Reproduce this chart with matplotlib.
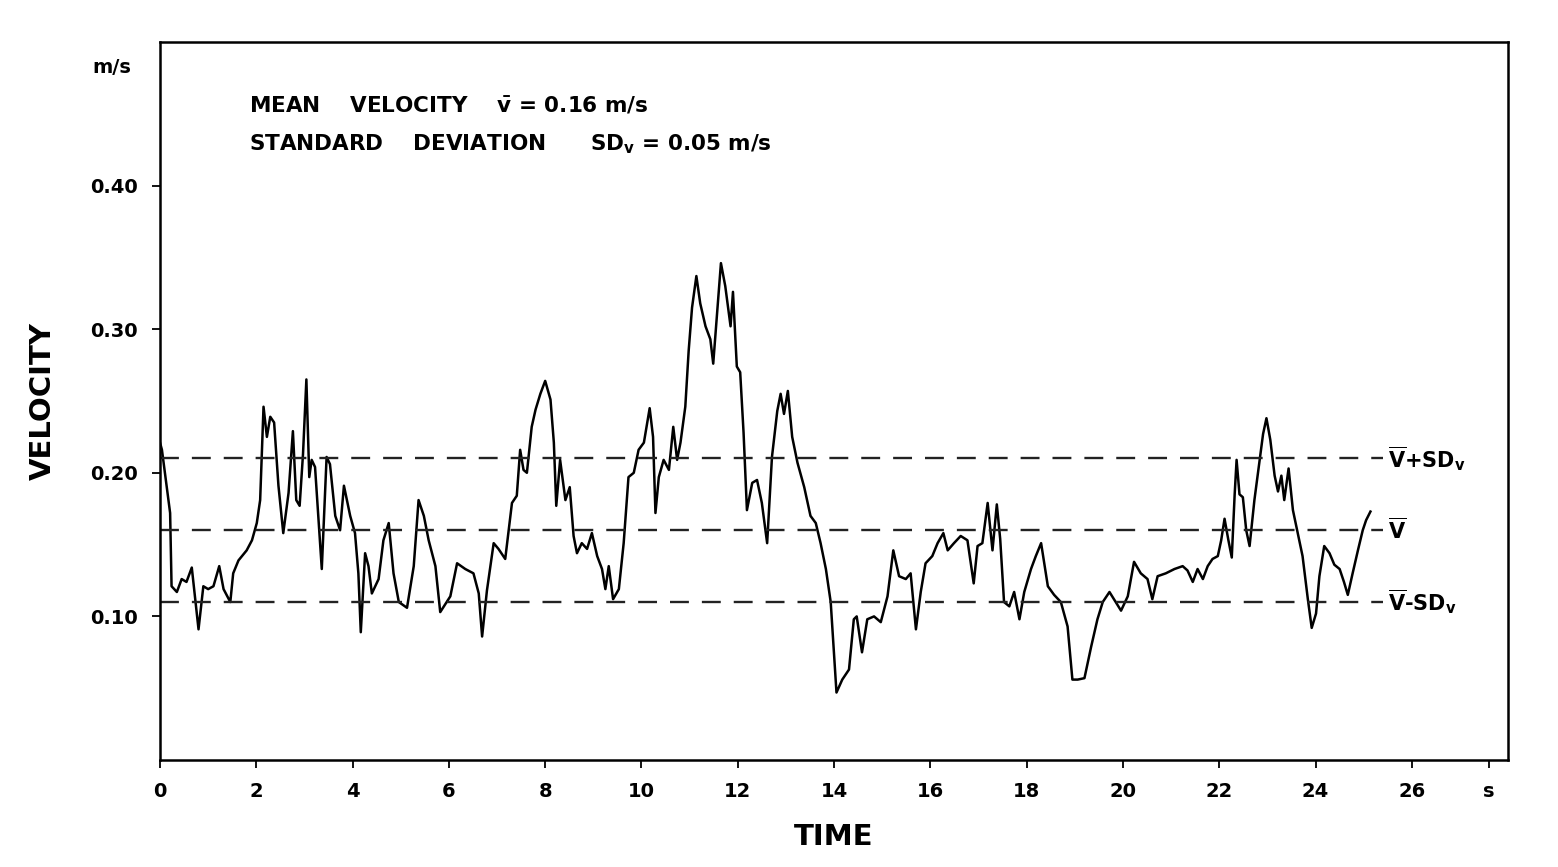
import matplotlib
matplotlib.use("Agg")
import matplotlib.pyplot as plt

# velocity trace
time_s = [
    0.00, 0.04, 0.21, 0.24, 0.35, 0.45, 0.55, 0.66, 0.76, 0.80, 0.90, 1.00, 1.11, 1.23, 1.32,
    1.46, 1.52, 1.63, 1.80, 1.91, 2.01, 2.08, 2.15, 2.22, 2.29, 2.37, 2.46, 2.56, 2.67, 2.76,
    2.83, 2.90, 2.97, 3.04, 3.10, 3.15, 3.22, 3.29, 3.36, 3.46, 3.53, 3.64, 3.74, 3.82, 3.95,
    4.05, 4.12, 4.17, 4.26, 4.33, 4.40, 4.54, 4.64, 4.75, 4.85, 4.96, 5.13, 5.27, 5.37, 5.48,
    5.58, 5.72, 5.82, 6.03, 6.17, 6.34, 6.51, 6.62, 6.69, 6.79,
    6.93, 7.03, 7.17, 7.31, 7.41, 7.48, 7.55, 7.62, 7.72, 7.80, 7.90, 8.00, 8.11, 8.18, 8.23,
    8.31, 8.42, 8.51, 8.59, 8.66, 8.76, 8.87, 8.97, 9.08, 9.18, 9.25, 9.32, 9.41, 9.53, 9.63,
    9.73, 9.84, 9.94, 10.05, 10.17, 10.24, 10.29, 10.36, 10.46, 10.57, 10.66, 10.74, 10.81,
    10.91, 10.98, 11.05, 11.14, 11.22, 11.33, 11.43, 11.49, 11.57, 11.65, 11.74, 11.85, 11.90,
    11.98, 12.05, 12.12, 12.19, 12.30, 12.40, 12.50, 12.61, 12.71, 12.82, 12.89, 12.96, 13.04,
    13.13, 13.24, 13.38, 13.51, 13.62, 13.72, 13.83, 13.93,
    13.98, 14.05, 14.17, 14.31, 14.41, 14.47, 14.58, 14.69, 14.83, 14.97, 15.11, 15.23, 15.35,
    15.49, 15.59, 15.70, 15.80, 15.90, 16.04, 16.15, 16.27, 16.36, 16.49, 16.63, 16.77, 16.90,
    16.98, 17.08, 17.19, 17.29, 17.38, 17.45, 17.53, 17.64, 17.74, 17.85, 17.95, 18.09, 18.19,
    18.30, 18.44, 18.57, 18.71, 18.85, 18.95, 19.06, 19.20, 19.34, 19.47, 19.58, 19.72, 19.85,
    19.96, 20.10, 20.23, 20.37, 20.51, 20.61,
    20.72, 20.89, 21.07, 21.24, 21.34, 21.45, 21.55, 21.66, 21.76, 21.86, 21.97, 22.04, 22.11,
    22.19, 22.26, 22.32, 22.36, 22.42, 22.49, 22.56, 22.63, 22.73, 22.84, 22.91, 22.98, 23.06,
    23.15, 23.22, 23.29, 23.35, 23.44, 23.53, 23.63, 23.73, 23.84, 23.92, 24.01, 24.08, 24.18,
    24.29, 24.39, 24.50, 24.59, 24.67, 24.77, 24.88, 24.98, 25.05, 25.14,
]
velocity = [
    0.221, 0.216, 0.172, 0.121, 0.117, 0.126, 0.124, 0.134, 0.103, 0.091, 0.121, 0.119, 0.121,
    0.135, 0.119, 0.110, 0.130, 0.139, 0.146, 0.153, 0.165, 0.181, 0.246, 0.225, 0.239, 0.235,
    0.191, 0.158, 0.186, 0.229, 0.181, 0.177, 0.213, 0.265, 0.197, 0.209, 0.204, 0.168, 0.133,
    0.211, 0.206, 0.170, 0.160, 0.191, 0.170, 0.158, 0.130, 0.089, 0.144, 0.135, 0.116, 0.126,
    0.153, 0.165, 0.130, 0.110, 0.106, 0.135, 0.181, 0.170, 0.153, 0.135, 0.103, 0.114, 0.137,
    0.133, 0.130, 0.116, 0.086, 0.118,
    0.151, 0.147, 0.140, 0.179, 0.184, 0.216, 0.202, 0.200, 0.232, 0.244, 0.255, 0.264, 0.251,
    0.221, 0.177, 0.209, 0.181, 0.190, 0.156, 0.144, 0.151, 0.147, 0.158, 0.142, 0.133, 0.119,
    0.135, 0.112, 0.119, 0.151, 0.197, 0.200, 0.216, 0.221, 0.245, 0.225, 0.172, 0.197, 0.209,
    0.202, 0.232, 0.209, 0.221, 0.246, 0.285, 0.315, 0.337, 0.318, 0.302, 0.293, 0.276, 0.311,
    0.346, 0.330, 0.302, 0.326, 0.274, 0.270, 0.228, 0.174, 0.193, 0.195, 0.179, 0.151, 0.211,
    0.243, 0.255, 0.241, 0.257, 0.225, 0.207, 0.190, 0.170, 0.165, 0.151, 0.133, 0.110,
    0.084, 0.047, 0.056, 0.063, 0.098, 0.100, 0.075, 0.098, 0.100, 0.096, 0.114, 0.146, 0.128,
    0.126, 0.130, 0.091, 0.117, 0.137, 0.142, 0.151, 0.158, 0.146, 0.151, 0.156, 0.153, 0.123,
    0.149, 0.151, 0.179, 0.146, 0.178, 0.154, 0.110, 0.107, 0.117, 0.098, 0.117, 0.133, 0.142,
    0.151, 0.121, 0.115, 0.110, 0.093, 0.056, 0.056, 0.057, 0.079, 0.098, 0.110, 0.117, 0.110,
    0.104, 0.114, 0.138, 0.130, 0.126, 0.112,
    0.128, 0.130, 0.133, 0.135, 0.132, 0.124, 0.133, 0.126, 0.135, 0.140, 0.142, 0.153, 0.168,
    0.153, 0.141, 0.185, 0.209, 0.185, 0.183, 0.160, 0.149, 0.181, 0.209, 0.227, 0.238, 0.223,
    0.198, 0.187, 0.198, 0.181, 0.203, 0.174, 0.158, 0.142, 0.112, 0.092, 0.102, 0.128, 0.149,
    0.144, 0.136, 0.133, 0.124, 0.115, 0.130, 0.146, 0.160, 0.167, 0.173,
]

mean_v = 0.16
sd_v = 0.05
ref_levels = [mean_v + sd_v, mean_v, mean_v - sd_v]
ref_labels = [r"$\overline{\mathbf{V}}$+SD$_\mathbf{v}$", r"$\overline{\mathbf{V}}$",
              r"$\overline{\mathbf{V}}$-SD$_\mathbf{v}$"]

x_ticks = list(range(0, 27, 2))
y_ticks = [0.10, 0.20, 0.30, 0.40]
y_tick_labels = ["0.10", "0.20", "0.30", "0.40"]

plt.rcParams['font.family'] = ['DejaVu Sans']
plt.rcParams['font.weight'] = 'bold'
plt.rcParams['mathtext.fontset'] = 'dejavusans'

fig = plt.figure(figsize=(15.58, 8.67), dpi=100)
ax = fig.add_axes([0.1027, 0.1234, 0.8653, 0.8282])

ax.plot(time_s, velocity, color="black", lw=1.8)
for lvl, lab in zip(ref_levels, ref_labels):
    ax.plot([0, 25.4], [lvl, lvl], color="#222222", lw=1.7, dashes=(8, 5.5))
    ax.text(25.5, lvl, lab, fontsize=15, va="center", ha="left")

ax.set_xlim(0, 28)
ax.set_ylim(0, 0.5)
ax.set_xticks(x_ticks + [27.6])
ax.set_xticklabels([str(t) for t in x_ticks] + ["s"], fontsize=14, fontweight="bold")
ax.set_yticks(y_ticks)
ax.set_yticklabels(y_tick_labels, fontsize=14, fontweight="bold")
ax.tick_params(direction="out", length=6, width=1.3, pad=10)
for sp in ax.spines.values():
    sp.set_linewidth(1.8)

ax.text(-1.0, 0.482, "m/s", fontsize=14, ha="center", va="center")
ax.set_ylabel("VELOCITY", fontsize=21, fontweight="bold", labelpad=24)
ax.set_xlabel("TIME", fontsize=21, fontweight="bold", labelpad=16)

ax.text(1.85, 0.4556, r"MEAN    VELOCITY    $\bar{\mathbf{v}}$ = 0.16 m/s",
        fontsize=15.5, va="center")
ax.text(1.85, 0.4285, r"STANDARD    DEVIATION      SD$_\mathbf{v}$ = 0.05 m/s",
        fontsize=15.5, va="center")

fig.savefig("out.png", dpi=100)
